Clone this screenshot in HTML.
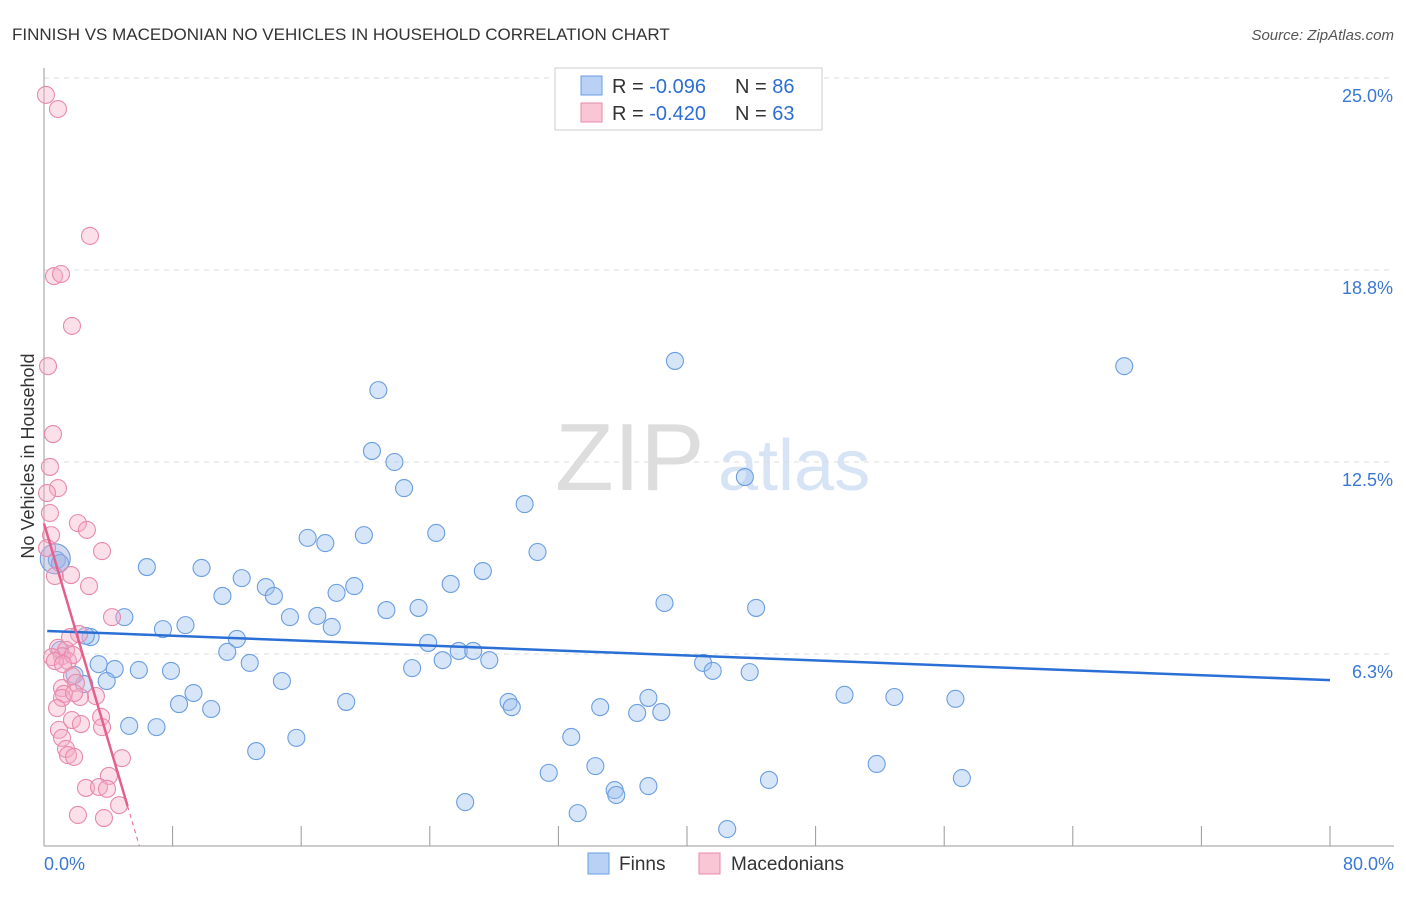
<!DOCTYPE html>
<html><head><meta charset="utf-8"><style>
body{margin:0;background:#fff;font-family:"Liberation Sans",sans-serif;}
svg text{font-family:"Liberation Sans",sans-serif;}
</style></head><body>
<svg width="1406" height="892" viewBox="0 0 1406 892" id="chart">
<text x="12" y="40" font-size="17" fill="#333">FINNISH VS MACEDONIAN NO VEHICLES IN HOUSEHOLD CORRELATION CHART</text>
<text x="1394" y="40" font-size="15" fill="#555" font-style="italic" text-anchor="end">Source: ZipAtlas.com</text>
<text x="555" y="490" font-size="96" fill="#ddd" font-family="Liberation Serif,serif">ZIP</text>
<text x="718" y="490" font-size="72" fill="#d6e4f6">atlas</text>
<text transform="translate(34,456) rotate(-90)" font-size="18" fill="#333" text-anchor="middle">No Vehicles in Household</text>
<g id="grid"></g><g id="axes"></g><g id="pts"></g><g id="lines"></g>
<g>
<rect x="555" y="68" width="267" height="62" fill="#fff" stroke="#ccc"/>
<rect x="581" y="76" width="21" height="19" fill="#b8d1f5" stroke="#6a9ee0"/>
<text x="612" y="93" font-size="20" fill="#333">R = <tspan fill="#2c6fd1">-0.096</tspan></text>
<text x="735" y="93" font-size="20" fill="#333">N = <tspan fill="#2c6fd1">86</tspan></text>
<rect x="581" y="103" width="21" height="19" fill="#f9c6d6" stroke="#e88aab"/>
<text x="612" y="120" font-size="20" fill="#333">R = <tspan fill="#2c6fd1">-0.420</tspan></text>
<text x="735" y="120" font-size="20" fill="#333">N = <tspan fill="#2c6fd1">63</tspan></text>
</g>
<rect x="588" y="853" width="21" height="21" fill="#b8d1f5" stroke="#6a9ee0"/>
<text x="619" y="870" font-size="19" fill="#333">Finns</text>
<rect x="699" y="853" width="21" height="21" fill="#f9c6d6" stroke="#e88aab"/>
<text x="731" y="870" font-size="19" fill="#333">Macedonians</text>
</svg>
<script>
const yTicks=[25.0,18.8,12.5,6.3];
const yTickVals=[25,18.75,12.5,6.25];
const xTickLabels=["0.0%","80.0%"];
const finnX=[39.25,67.2,20.8,20.4,21.8,22.4,43.6,29.9,16.4,17.5,19.9,24.4,30.7,6.4,9.8,12.3,27.3,19.3,13.8,25.3,11.1,14.3,18.2,21.3,23.3,38.6,44.3,5.0,15.3,17.0,17.9,8.8,7.4,2.9,12.0,23.9,11.4,25.8,26.7,24.8,27.7,12.8,3.4,4.4,5.9,7.9,22.9,41.0,41.6,43.9,1.9,3.9,14.8,2.5,9.3,8.4,10.4,18.8,28.9,29.1,34.6,37.6,49.8,52.9,56.7,36.9,38.4,5.3,7.0,15.7,32.8,13.2,34.3,31.4,51.8,57.1,45.1,35.5,35.6,37.6,26.2,33.2,42.5,0.8,1.0,2.6,1.0];
const finnY=[15.79,15.62,14.84,12.86,12.5,11.65,12.01,11.13,10.03,9.86,10.12,10.19,9.57,9.08,9.05,8.72,8.95,8.46,8.43,8.53,8.14,8.14,8.24,7.68,7.75,7.91,7.75,7.45,7.45,7.49,7.13,7.19,7.06,6.8,6.74,6.61,6.32,6.35,6.35,6.05,6.05,5.96,5.92,5.76,5.73,5.7,5.79,5.96,5.7,5.66,5.57,5.37,5.37,5.27,4.98,4.62,4.46,4.69,4.69,4.52,4.52,4.82,4.92,4.85,4.79,4.33,4.36,3.91,3.87,3.52,3.55,3.09,2.6,2.38,2.67,2.21,2.15,1.82,1.66,1.95,1.43,1.07,0.55,9.31,9.21,6.84,6.38];
const macX=[0.12,0.87,2.86,0.62,1.06,1.74,0.25,0.56,0.37,0.87,0.19,0.37,2.11,2.67,0.44,3.61,0.19,0.68,1.68,2.8,4.23,2.18,1.62,0.87,1.37,1.12,0.5,1.49,0.68,1.8,1.18,1.74,1.99,1.12,1.24,1.12,3.23,2.24,1.87,0.81,3.55,1.74,2.3,3.61,0.93,1.12,1.37,1.49,1.87,4.85,4.04,2.61,3.42,3.92,4.67,2.11,3.73];
const macY=[24.45,23.99,19.86,18.55,18.62,16.93,15.62,13.41,12.34,11.65,11.49,10.84,10.51,10.29,10.12,9.6,9.7,8.79,8.82,8.46,7.45,6.9,6.8,6.45,6.38,6.18,6.15,6.02,6.02,6.22,5.92,5.53,5.31,5.14,4.95,4.82,4.88,4.85,4.98,4.49,4.2,4.1,3.97,3.87,3.78,3.52,3.16,2.96,2.9,2.86,2.28,1.89,1.92,1.86,1.33,1.01,0.91];
const finnTrend=[7.0,5.4];
const macTrend=[10.5,-1.77];
const NS="http://www.w3.org/2000/svg";
const X=v=>44+v/80*1286, Y=v=>846-v/25*768;
function mk(t,a,p){const e=document.createElementNS(NS,t);for(const k in a)e.setAttribute(k,a[k]);document.getElementById(p).appendChild(e);return e;}
yTickVals.forEach((v,i)=>{
 const g=mk('line',{x1:44,x2:1394,y1:Y(v),y2:Y(v),stroke:'#ddd','stroke-dasharray':'5,5'},'grid');
 
 
 const t=mk('text',{x:1393,y:Y(v)+24,'font-size':18,fill:'#3a78d4','text-anchor':'end'},'axes');
 t.textContent=yTicks[i].toFixed(1)+'%';
 
 
});
const gl=mk('line',{x1:44,x2:1394,y1:78,y2:78,stroke:'#ddd','stroke-dasharray':'5,5'},'grid');


const ya=mk('line',{x1:44,x2:44,y1:68,y2:846,stroke:'#999'},'axes');


const xa=mk('line',{x1:44,x2:1394,y1:846,y2:846,stroke:'#999'},'axes');


for(let i=0;i<=10;i++){const l=mk('line',{x1:X(i*8),x2:X(i*8),y1:826,y2:846,stroke:'#999'},'axes');
 
 }
[[0,44,'start'],[80,1394,'end']].forEach((d,i)=>{const t=mk('text',{x:d[1],y:870,'font-size':18,fill:'#3a78d4','text-anchor':d[2]},'axes');t.textContent=xTickLabels[i];
 
 });
finnX.forEach((v,i)=>{const c=mk('circle',{cx:X(v),cy:Y(finnY[i]),r:8.5,fill:'rgba(160,194,240,0.42)',stroke:'#6a9ee0','stroke-width':1.1},'pts');
 
 });
const big=mk('circle',{cx:X(0.7),cy:Y(9.35),r:15,fill:'rgba(160,170,220,0.45)',stroke:'#6a9ee0','stroke-width':1.1},'pts');


macX.forEach((v,i)=>{const c=mk('circle',{cx:X(v),cy:Y(macY[i]),r:8.5,fill:'rgba(245,170,196,0.38)',stroke:'#e88aab','stroke-width':1.1},'pts');
 
 });
const ft=mk('line',{x1:X(0.2),y1:Y(finnTrend[0]),x2:X(80),y2:Y(finnTrend[1]),stroke:'#2a6fd6','stroke-width':2.5},'lines');


const m=x=>macTrend[0]+macTrend[1]*x;
const mt=mk('line',{x1:X(0),y1:Y(m(0)),x2:X(5.2),y2:Y(m(5.2)),stroke:'#e4608c','stroke-width':2.5},'lines');


const md=mk('line',{x1:X(5.2),y1:Y(m(5.2)),x2:X(-macTrend[0]/macTrend[1]),y2:Y(0),stroke:'#e4608c','stroke-width':1,'stroke-dasharray':'4,4'},'lines');


</script>
</body></html>
